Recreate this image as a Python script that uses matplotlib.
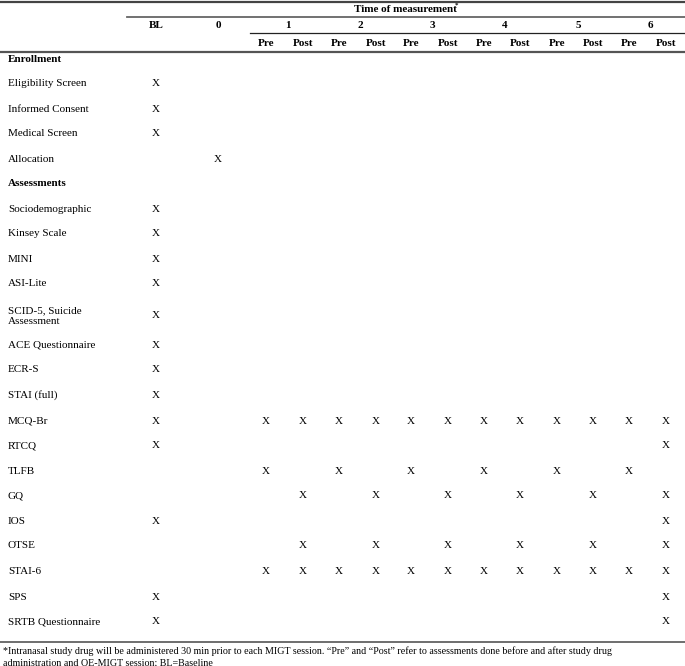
import matplotlib.pyplot as plt

plt.rcParams['font.family'] = ['Liberation Serif', 'DejaVu Serif']

# columns of the schedule
col_keys = ['BL', '0'] + [f'{s}{p}' for s in range(1, 7) for p in ('Pre', 'Post')]
sessions = ['1', '2', '3', '4', '5', '6']
pre_all = [f'{s}Pre' for s in range(1, 7)]
post_all = [f'{s}Post' for s in range(1, 7)]

# rows and the columns marked with an X
row_labels = ['Enrollment', 'Eligibility Screen', 'Informed Consent', 'Medical Screen',
              'Allocation', 'Assessments', 'Sociodemographic', 'Kinsey Scale', 'MINI',
              'ASI-Lite', 'SCID-5, Suicide\nAssessment', 'ACE Questionnaire', 'ECR-S',
              'STAI (full)', 'MCQ-Br', 'RTCQ', 'TLFB', 'GQ', 'IOS', 'OTSE', 'STAI-6',
              'SPS', 'SRTB Questionnaire']
section_rows = ['Enrollment', 'Assessments']
row_marks = [
    [], ['BL'], ['BL'], ['BL'], ['0'], [],
    ['BL'], ['BL'], ['BL'], ['BL'], ['BL'], ['BL'], ['BL'], ['BL'],
    ['BL'] + col_keys[2:],
    ['BL', '6Post'],
    pre_all,
    post_all,
    ['BL', '6Post'],
    post_all,
    col_keys[2:],
    ['BL', '6Post'],
    ['BL', '6Post'],
]
footnote = ('*Intranasal study drug will be administered 30 min prior to each MIGT session. '
            '\u201cPre\u201d and \u201cPost\u201d refer to assessments done before and after study drug\n'
            'administration and OE-MIGT session; BL=Baseline')

# layout in pixels
W, H = 685, 666
col_x = {'BL': 156, '0': 218}
pre_x = [266, 339, 411, 484, 557, 629]
post_x = [303, 376, 448, 520, 593, 666]
for i in range(6):
    col_x[f'{i+1}Pre'] = pre_x[i]
    col_x[f'{i+1}Post'] = post_x[i]
row_y = [59, 84, 109, 134, 159, 184, 209, 234, 259, 284, 316, 345, 370, 395,
         421, 446, 471, 496, 521, 546, 572, 597, 622]

fig = plt.figure(figsize=(W / 100, H / 100), dpi=100)
ax = fig.add_axes([0, 0, 1, 1])
ax.set_xlim(0, W)
ax.set_ylim(H, 0)
ax.axis('off')

fs = 8
# rules
ax.plot([0, W], [2, 2], color='#444444', lw=1.6)
ax.plot([127, W], [17, 17], color='#666666', lw=1.3)
ax.plot([250, W], [33, 33], color='#222222', lw=0.9)
ax.plot([0, W], [52, 52], color='#555555', lw=1.6)
ax.plot([0, W], [642, 642], color='#555555', lw=1.2)

# header
ax.text(405, 9, 'Time of measurement', ha='center', va='center', fontsize=fs, weight='bold')
ax.text(455, 5, '*', ha='left', va='center', fontsize=5, weight='bold')
ax.text(col_x['BL'], 25, 'BL', ha='center', va='center', fontsize=fs, weight='bold')
ax.text(col_x['0'], 25, '0', ha='center', va='center', fontsize=fs, weight='bold')
for i, s in enumerate(sessions):
    ax.text((pre_x[i] + post_x[i]) / 2 + 3, 25, s, ha='center', va='center',
            fontsize=fs, weight='bold')
    ax.text(pre_x[i], 43, 'Pre', ha='center', va='center', fontsize=fs, weight='bold')
    ax.text(post_x[i], 43, 'Post', ha='center', va='center', fontsize=fs, weight='bold')

# body
for label, marks, y in zip(row_labels, row_marks, row_y):
    bold = label in section_rows
    ax.text(8, y, label, ha='left', va='center', fontsize=fs,
            weight='bold' if bold else 'normal', linespacing=1.3)
    for c in marks:
        ax.text(col_x[c], y, 'X', ha='center', va='center', fontsize=fs)

ax.text(3, 657, footnote, ha='left', va='center', fontsize=7.2, linespacing=1.3)

fig.savefig('out.png', dpi=100)
